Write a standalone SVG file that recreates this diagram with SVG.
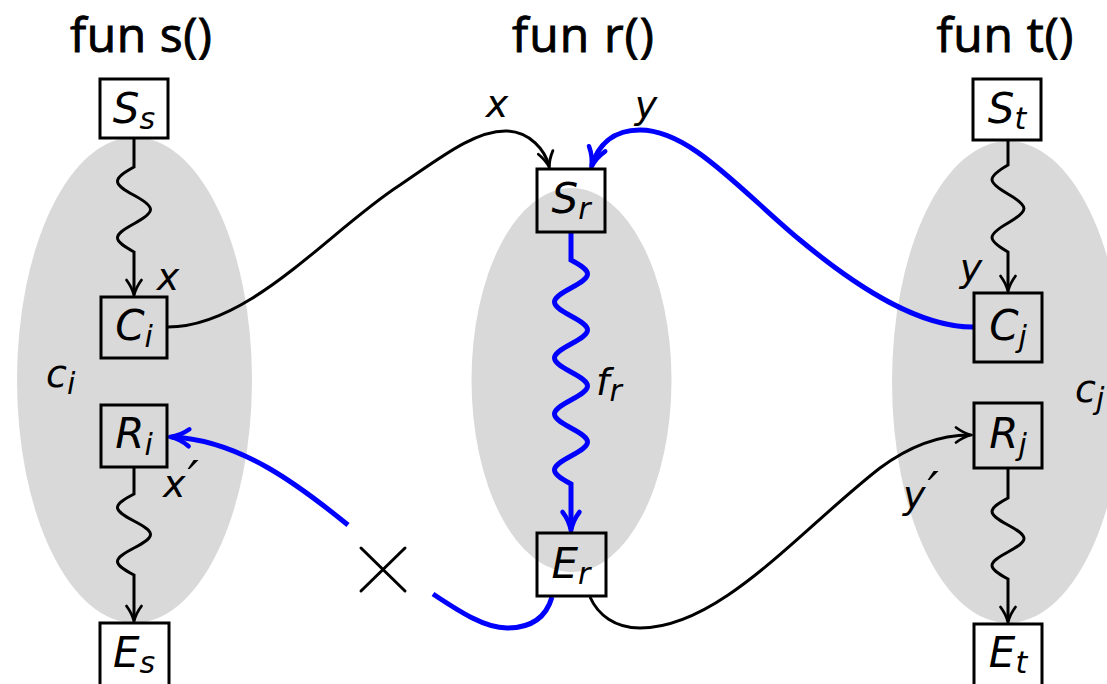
<svg xmlns="http://www.w3.org/2000/svg" width="1107" height="684" viewBox="0 0 1107 684">
<style>
.ell{fill:#d9d9d9}
.box{fill:none;stroke:#000;stroke-width:3}
.m{font-family:"DejaVu Sans",sans-serif;font-style:italic;font-size:42px;fill:#000}
.sub{font-size:30px}
.pr{font-size:50px}
.lbl{font-family:"DejaVu Sans",sans-serif;font-style:italic;font-size:38px;fill:#000}
.title{font-family:"Open Sans","DejaVu Sans",sans-serif;font-size:48px;fill:#000;stroke:#000;stroke-width:0.9}
.k{fill:none;stroke:#000;stroke-width:3}
.b{fill:none;stroke:#0000ff;stroke-width:5}
.ka{marker-end:url(#ak)}
.ba{marker-end:url(#ab)}
</style>
<defs>
<marker id="ak" markerUnits="userSpaceOnUse" viewBox="-20 -10 25 20" markerWidth="25" markerHeight="20" refX="0" refY="0" orient="auto" overflow="visible">
<path d="M-14,-7.5 C-8,-3 -3,-1 1.5,0 C-3,1 -8,3 -14,7.5" fill="none" stroke="#000" stroke-width="2.8" stroke-linecap="round" stroke-linejoin="round"/>
</marker>
<marker id="ab" markerUnits="userSpaceOnUse" viewBox="-20 -10 25 20" markerWidth="25" markerHeight="20" refX="0" refY="0" orient="auto" overflow="visible">
<path d="M-17,-8.5 C-10,-3 -4,-1 2,0 C-4,1 -10,3 -17,8.5" fill="none" stroke="#0000ff" stroke-width="4.5" stroke-linecap="round" stroke-linejoin="round"/>
</marker>
</defs>

<g id="regions">
<ellipse class="ell" cx="134.5" cy="380" rx="117.5" ry="243"/>
<ellipse class="ell" cx="571.5" cy="380" rx="100" ry="192"/>
<ellipse class="ell" cx="1008" cy="382" rx="116" ry="241"/>
<text class="lbl" x="46" y="387">c<tspan class="sub" dy="7">i</tspan></text>
<text class="lbl" x="1075" y="402">c<tspan class="sub" dy="7">j</tspan></text>
</g>

<g id="titles">
<text class="title" x="141" y="52" text-anchor="middle" textLength="142">fun s()</text>
<text class="title" x="583" y="52" text-anchor="middle" textLength="142">fun r()</text>
<text class="title" x="1005" y="52" text-anchor="middle" textLength="137">fun t()</text>
</g>

<g id="connectors">
<path class="k ka" d="M134,138 V167 C112,179 112,183.3 134,195.3 C156,207.3 156,211.7 134,223.7 C112,235.7 112,240 134,252 V294"/>
<path class="k ka" d="M134,467 V494 C112,505.5 112,509.5 134,521 C156,532.5 156,536.5 134,548 C112,559.5 112,563.5 134,575 V620"/>
<path class="k ka" d="M1008,140 V165 C986.7,177.3 986.7,181.7 1008,194 C1029.3,206.3 1029.3,210.7 1008,223 C986.7,235.3 986.7,239.7 1008,252 V290"/>
<path class="k ka" d="M1008,468 V498 C986.7,509.5 986.7,513.5 1008,525 C1029.3,536.5 1029.3,540.5 1008,552 C986.7,563.5 986.7,567.5 1008,579 V621"/>
<path class="b ba" d="M571,232 V260 C593,271.9 593,276.1 571,288 C549,299.9 549,304.1 571,316 C593,327.9 593,332.1 571,344 C549,355.9 549,360.1 571,372 C593,383.9 593,388.1 571,400 C549,411.9 549,416.1 571,428 C593,439.9 593,444.1 571,456 C549,467.9 549,472.1 571,484 V529"/>
<path class="k ka" d="M168,327 C250,327 330,230 400,185 C440,158 475,130 507,131 C530,132 545,150 549,166"/>
<path class="b ba" d="M973,327 C920,327 860,290 800,240 C740,190 690,130 640,130 C612,130 598,146 592,165"/>
<path class="k ka" d="M590,597 C598,615 615,628 640,628 C720,628 800,530 880,468 C915,442 945,435 970,435"/>
<path class="b" d="M552,597 C546,618 530,628 507,628 C485,628 460,612 433,594"/>
<path class="b ba" d="M348,525 C300,486 240,440 172,437"/>
<path d="M361,548 L405,591 M405,548 L361,591" fill="none" stroke="#000" stroke-width="3" stroke-linecap="round"/>
<text class="lbl" x="497" y="117" text-anchor="middle">x</text>
<text class="lbl" x="646" y="118" text-anchor="middle">y</text>
<text class="lbl" x="168" y="290" text-anchor="middle">x</text>
<text class="lbl" x="163" y="497">x<tspan class="pr" dx="2" dy="-1">′</tspan></text>
<text class="lbl" x="903" y="508">y<tspan class="pr" dx="2" dy="-1">′</tspan></text>
<text class="lbl" x="971" y="281" text-anchor="middle">y</text>
<text class="lbl" x="596" y="395">f<tspan class="sub" dy="6">r</tspan></text>
</g>

<g id="node-Ss"><rect class="box" x="100" y="79" width="68" height="59"/><text class="m" x="134" y="123" text-anchor="middle">S<tspan class="sub" dy="6">s</tspan></text></g>
<g id="node-Ci"><rect class="box" x="101" y="297" width="66" height="61"/><text class="m" x="134" y="340" text-anchor="middle">C<tspan class="sub" dy="7">i</tspan></text></g>
<g id="node-Ri"><rect class="box" x="101" y="405" width="66" height="62"/><text class="m" x="134" y="448" text-anchor="middle">R<tspan class="sub" dy="7">i</tspan></text></g>
<g id="node-Es"><rect class="box" x="100" y="623" width="69" height="63"/><text class="m" x="134" y="667" text-anchor="middle">E<tspan class="sub" dy="6">s</tspan></text></g>
<g id="node-Sr"><rect class="box" x="537" y="169" width="68" height="63"/><text class="m" x="571" y="213" text-anchor="middle">S<tspan class="sub" dy="6">r</tspan></text></g>
<g id="node-Er"><rect class="box" x="537" y="533" width="69" height="63"/><text class="m" x="571" y="578" text-anchor="middle">E<tspan class="sub" dy="6">r</tspan></text></g>
<g id="node-St"><rect class="box" x="973" y="79" width="68" height="61"/><text class="m" x="1007" y="123" text-anchor="middle">S<tspan class="sub" dy="6">t</tspan></text></g>
<g id="node-Cj"><rect class="box" x="974" y="293" width="68" height="69"/><text class="m" x="1008" y="340" text-anchor="middle">C<tspan class="sub" dy="7">j</tspan></text></g>
<g id="node-Rj"><rect class="box" x="974" y="403" width="68" height="65"/><text class="m" x="1008" y="448" text-anchor="middle">R<tspan class="sub" dy="7">j</tspan></text></g>
<g id="node-Et"><rect class="box" x="974" y="624" width="68" height="63"/><text class="m" x="1008" y="667" text-anchor="middle">E<tspan class="sub" dy="6">t</tspan></text></g>
</svg>
